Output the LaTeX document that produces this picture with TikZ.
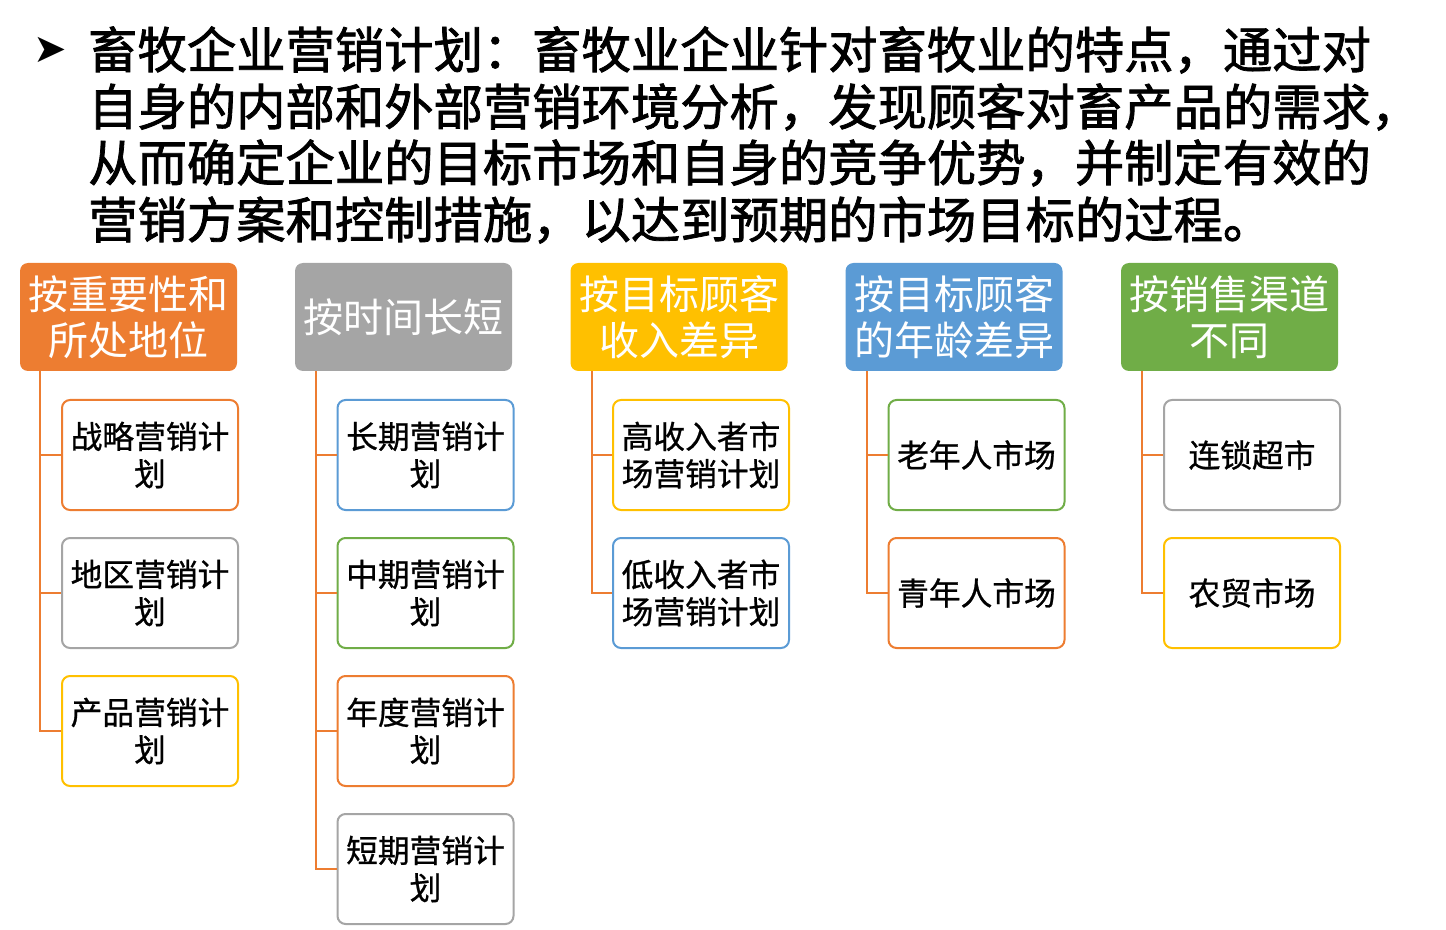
\documentclass[tikz,border=0pt]{standalone}
\usepackage{fontspec}
\setmainfont{Noto Sans CJK SC}
\newfontfamily\symfont{DejaVu Sans}
\newfontfamily\titlefont{Noto Sans CJK SC}[FakeBold=1.6]
\newfontfamily\leaffont{Noto Sans CJK SC}[FakeBold=0.8]
\definecolor{pptorange}{HTML}{ED7D31}
\definecolor{pptgray}{HTML}{A5A5A5}
\definecolor{pptgold}{HTML}{FFC000}
\definecolor{pptblue}{HTML}{5B9BD5}
\definecolor{pptgreen}{HTML}{70AD47}
\begin{document}
\begin{tikzpicture}[x=0.75pt,y=-0.75pt,
  head/.style={rounded corners=6pt, minimum width=162.75pt, minimum height=81pt,
    inner sep=0pt, text=white, align=center, font=\fontsize{30pt}{34.5pt}\selectfont},
  leaf/.style={draw, line width=1.5pt, rounded corners=6pt, fill=white,
    minimum width=132pt, minimum height=82.5pt, inner sep=0pt, align=center,
    font=\leaffont\fontsize{23.8pt}{28pt}\selectfont},
  titleline/.style={anchor=west, inner sep=0pt, font=\titlefont\fontsize{37pt}{42pt}\selectfont},
  link/.style={draw=pptorange, line width=1.5pt}]

\useasboundingbox (0,0) rectangle (1446,930);

%title text
\node [anchor=center, inner sep=0pt, font=\symfont\fontsize{30pt}{32pt}\selectfont] (bullet) at (50,50) {➤};
\node [titleline] (t1) at (88,50) {畜牧企业营销计划：畜牧业企业针对畜牧业的特点，通过对};
\node [titleline] (t2) at (88,107) {自身的内部和外部营销环境分析，发现顾客对畜产品的需求，};
\node [titleline] (t3) at (88,163) {从而确定企业的目标市场和自身的竞争优势，并制定有效的};
\node [titleline] (t4) at (88,220) {营销方案和控制措施，以达到预期的市场目标的过程。};

%the five headings
\node [head, fill=pptorange] (h1) at (128.5,317) {按重要性和\\所处地位};
\node [head, fill=pptgray] (h2) at (403.5,317) {按时间长短};
\node [head, fill=pptgold] (h3) at (679,317) {按目标顾客\\收入差异};
\node [head, fill=pptblue] (h4) at (954,317) {按目标顾客\\的年龄差异};
\node [head, fill=pptgreen] (h5) at (1229.5,317) {按销售渠道\\不同};

%first column
\node [leaf, draw=pptorange] (c11) at (150,455) {战略营销计\\划};
\node [leaf, draw=pptgray] (c12) at (150,593) {地区营销计\\划};
\node [leaf, draw=pptgold] (c13) at (150,731) {产品营销计\\划};

%second column
\node [leaf, draw=pptblue] (c21) at (425.5,455) {长期营销计\\划};
\node [leaf, draw=pptgreen] (c22) at (425.5,593) {中期营销计\\划};
\node [leaf, draw=pptorange] (c23) at (425.5,731) {年度营销计\\划};
\node [leaf, draw=pptgray] (c24) at (425.5,869) {短期营销计\\划};

%third column
\node [leaf, draw=pptgold] (c31) at (701,455) {高收入者市\\场营销计划};
\node [leaf, draw=pptblue] (c32) at (701,593) {低收入者市\\场营销计划};

%fourth column
\node [leaf, draw=pptgreen] (c41) at (976.5,455) {老年人市场};
\node [leaf, draw=pptorange] (c42) at (976.5,593) {青年人市场};

%fifth column
\node [leaf, draw=pptgray] (c51) at (1252,455) {连锁超市};
\node [leaf, draw=pptgold] (c52) at (1252,593) {农贸市场};

%connectors
\draw [link] ([xshift=15pt]h1.south west) |- (c11.west);
\draw [link] ([xshift=15pt]h1.south west) |- (c12.west);
\draw [link] ([xshift=15pt]h1.south west) |- (c13.west);

\draw [link] ([xshift=16pt]h2.south west) |- (c21.west);
\draw [link] ([xshift=16pt]h2.south west) |- (c22.west);
\draw [link] ([xshift=16pt]h2.south west) |- (c23.west);
\draw [link] ([xshift=16pt]h2.south west) |- (c24.west);

\draw [link] ([xshift=16pt]h3.south west) |- (c31.west);
\draw [link] ([xshift=16pt]h3.south west) |- (c32.west);

\draw [link] ([xshift=16pt]h4.south west) |- (c41.west);
\draw [link] ([xshift=16pt]h4.south west) |- (c42.west);

\draw [link] ([xshift=16pt]h5.south west) |- (c51.west);
\draw [link] ([xshift=16pt]h5.south west) |- (c52.west);

\end{tikzpicture}
\end{document}
